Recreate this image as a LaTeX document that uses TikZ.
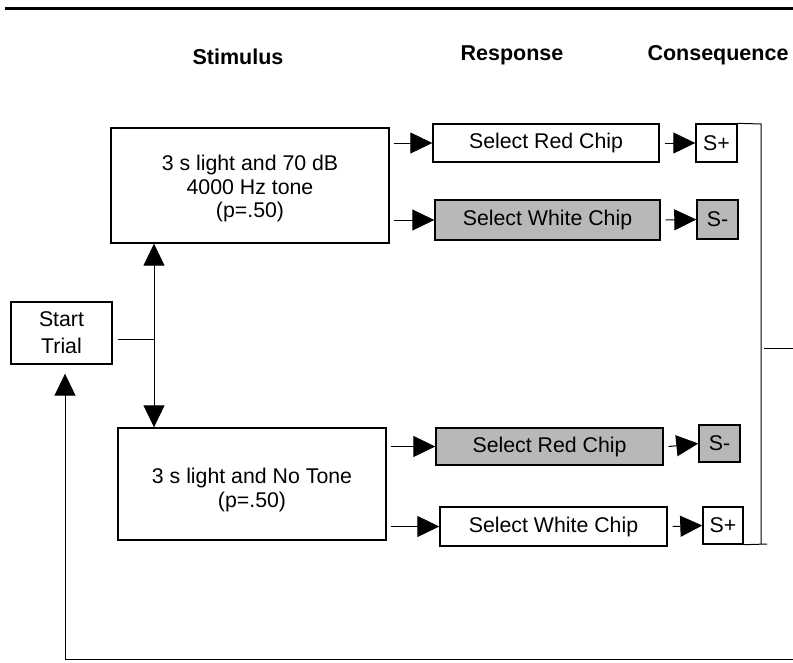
\documentclass[tikz,border=0pt]{standalone}
\usepackage{fontspec}
\setmainfont{Liberation Sans}
\usetikzlibrary{arrows.meta}
\begin{document}
\begin{tikzpicture}[x=1pt,y=-1pt,
  box/.style={draw,line width=1.4pt,inner sep=0pt,align=center,font=\fontsize{21.3}{23.5}\selectfont},
  shaded/.style={box,fill=black!28},
  head/.style={font=\fontsize{21.5}{24}\selectfont\bfseries},
  conn/.style={line width=1pt},
  arr/.style={conn,-{Triangle[length=22pt,width=21pt]}}]
\useasboundingbox (0,0) rectangle (793,662);
\fill[white] (0,0) rectangle (793,662);
\draw[line width=3pt] (5,8) -- (793,8);
\node[head] (h1) at (238,57) {Stimulus};
\node[head] (h2) at (512,55) {Response};
\node[head] (h3) at (718,55) {Consequence};
% stimulus boxes
\node[box,minimum width=278,minimum height=115] (b1) at (250,185.5) {\rule{0pt}{21.5pt}3 s light and 70 dB\\4000 Hz tone\\(p=.50)};
\node[box,minimum width=268,minimum height=112] (b2) at (252,484) {\rule{0pt}{27.5pt}3 s light and No Tone\\(p=.50)};
\node[box,minimum width=101,minimum height=62,font=\fontsize{21.3}{27}\selectfont] (st) at (61.5,333) {Start\\Trial};
% responses
\node[box,minimum width=226,minimum height=38] (r1) at (546,143) {Select Red Chip};
\node[shaded,minimum width=225,minimum height=40] (r2) at (547.5,220) {Select White Chip};
\node[shaded,minimum width=227,minimum height=37] (r3) at (549.5,446.5) {Select Red Chip};
\node[box,minimum width=227,minimum height=39] (r4) at (553.5,526.5) {Select White Chip};
% consequences
\node[box,minimum width=41,minimum height=38] (c1) at (716.5,143) {S+};
\node[shaded,minimum width=41,minimum height=39] (c2) at (717.5,219.5) {S-};
\node[shaded,minimum width=41,minimum height=37] (c3) at (719.5,443.5) {S-};
\node[box,minimum width=40,minimum height=37] (c4) at (723,525.5) {S+};
% stimulus -> response
\draw[arr] ([xshift=4pt]b1.east |- r1.west) -- (r1.west);
\draw[arr] ([xshift=4pt]b1.east |- r2.west) -- (r2.west);
\draw[arr] ([xshift=4pt]b2.east |- r3.west) -- (r3.west);
\draw[arr] ([xshift=4pt]b2.east |- r4.west) -- (r4.west);
% response -> consequence
\draw[arr] ([xshift=5pt]r1.east) -- (c1.west);
\draw[arr] ([xshift=5pt]r2.east) -- (c2.west);
\draw[arr] ([xshift=5pt]r3.east) -- (c3.west);
\draw[arr] ([xshift=5pt]r4.east) -- (c4.west);
% start trial branching
\coordinate (j) at (154,339);
\draw[conn] ([xshift=5pt]st.east |- j) -- (j);
\draw[arr] (j) -- (b1.south -| j);
\draw[arr] (j) -- (b2.north -| j);
% right collector
\coordinate (rt) at (761,124);
\coordinate (rb) at (761,544);
\coordinate (re) at (767,544);
\coordinate (ms) at (764,348);
\coordinate (me) at (793,348);
\draw[conn] (c1.north east) -- (rt) -- (rb);
\draw[conn] (c4.south east) -- (re);
\draw[conn] (ms) -- (me);
% feedback loop
\coordinate (bl) at (65,659);
\coordinate (br) at (793,659);
\draw[conn] (br) -- (bl);
\draw[arr,shorten >=9pt] (bl) -- (st.south -| bl);
\end{tikzpicture}
\end{document}
